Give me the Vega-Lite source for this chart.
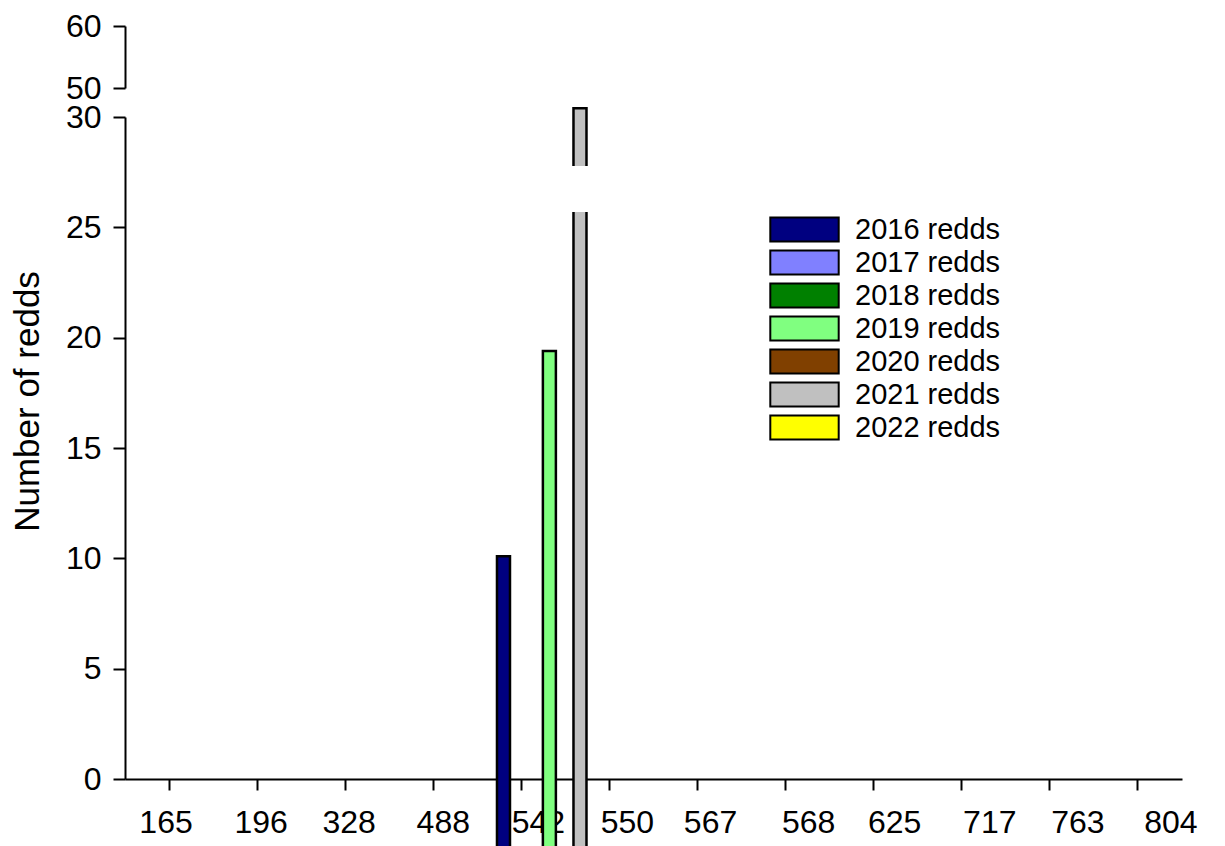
{
  "$schema": "https://vega.github.io/schema/vega-lite/v6.json",
  "padding": {"left": 10, "top": 10, "right": 5, "bottom": 0},
  "background": "white",
  "config": {
    "font": "Liberation Sans",
    "view": {"stroke": null},
    "axis": {
      "domainColor": "black", "domainWidth": 2, "tickColor": "black", "tickWidth": 2,
      "labelColor": "black", "labelFont": "Liberation Sans", "titleFont": "Liberation Sans",
      "titleColor": "black", "grid": false
    },
    "legend": {"labelFont": "Liberation Sans"}
  },
  "datasets": {
    "redds": [
      {"site": "542", "year": "2016 redds", "redds": 10.1},
      {"site": "542", "year": "2019 redds", "redds": 19.4},
      {"site": "542", "year": "2021 redds", "redds": 30.4}
    ],
    "gap": [
      {"site": "542", "year": "2021 redds", "lo": 25.78, "hi": 27.69}
    ]
  },
  "spacing": 29,
  "bounds": "flush",
  "resolve": {"scale": {"x": "independent", "y": "independent", "xOffset": "independent"}},
  "vconcat": [
    {
      "width": 1057,
      "height": 62,
      "data": {"name": "redds"},
      "mark": {"type": "bar", "clip": true, "opacity": 0},
      "encoding": {
        "x": {"field": "site", "type": "nominal",
          "scale": {"domain": ["165","196","328","488","542","550","567","568","625","717","763","804"], "paddingInner": 0, "paddingOuter": 0},
          "axis": null},
        "y": {"field": "redds", "type": "quantitative",
          "scale": {"domain": [50, 60], "nice": false, "zero": false},
          "axis": {"values": [50, 60], "title": null, "tickSize": 12, "labelPadding": 12, "labelFontSize": 32}}
      }
    },
    {
      "width": 1057,
      "height": 662,
      "layer": [
        {
          "data": {"name": "redds"},
          "mark": {"type": "bar", "clip": false, "stroke": "black", "strokeWidth": 2.5},
          "encoding": {
            "x": {"field": "site", "type": "nominal",
              "scale": {"domain": ["165","196","328","488","542","550","567","568","625","717","763","804"], "paddingInner": 0, "paddingOuter": 0},
              "axis": {"title": null, "labelAngle": 0, "tickSize": 11, "labelPadding": 17, "labelFontSize": 32,
                "labelOffset": {"condition": [
                  {"test": "datum.value == '196'", "value": 4},
                  {"test": "datum.value == '328'", "value": 4},
                  {"test": "datum.value == '488'", "value": 10},
                  {"test": "datum.value == '542'", "value": 17},
                  {"test": "datum.value == '550'", "value": 18},
                  {"test": "datum.value == '567'", "value": 13},
                  {"test": "datum.value == '568'", "value": 23},
                  {"test": "datum.value == '625'", "value": 21},
                  {"test": "datum.value == '717'", "value": 28},
                  {"test": "datum.value == '763'", "value": 28},
                  {"test": "datum.value == '804'", "value": 33}
                ], "value": -3}}},
            "xOffset": {"field": "year",
              "scale": {"domain": ["2016 redds","2017 redds","2018 redds","2019 redds","2020 redds","2021 redds","2022 redds"], "range": [18.5, 125.6], "paddingInner": 0.15, "paddingOuter": 0.075}},
            "y": {"field": "redds", "type": "quantitative",
              "scale": {"domain": [0, 30], "nice": false},
              "axis": {"values": [0, 5, 10, 15, 20, 25, 30], "title": "Number of redds", "titleFontSize": 35, "titleFontWeight": "normal",
                "titleX": -80, "titleY": 284, "tickSize": 12, "labelPadding": 12, "labelFontSize": 32}},
            "y2": {"datum": -3.2},
            "color": {"field": "year", "type": "nominal",
              "scale": {"domain": ["2016 redds","2017 redds","2018 redds","2019 redds","2020 redds","2021 redds","2022 redds"],
                "range": ["#000080","#8080FF","#008000","#80FF80","#804000","#C0C0C0","#FFFF00"]},
              "legend": {"title": null, "orient": "none", "legendX": 665, "legendY": 189,
                "symbolType": "M-2.85,-1H2.85V1H-2.85Z", "symbolSize": 576, "symbolStrokeColor": "black", "symbolStrokeWidth": 2,
                "symbolOpacity": 1, "labelFontSize": 29, "labelColor": "black", "labelOffset": 36, "rowPadding": 0}}
          }
        },
        {
          "data": {"name": "gap"},
          "mark": {"type": "bar", "clip": false, "fill": "white", "stroke": "white", "strokeWidth": 4},
          "encoding": {
            "x": {"field": "site", "type": "nominal"},
            "xOffset": {"field": "year"},
            "y": {"field": "lo", "type": "quantitative"},
            "y2": {"field": "hi"}
          }
        }
      ]
    }
  ]
}
